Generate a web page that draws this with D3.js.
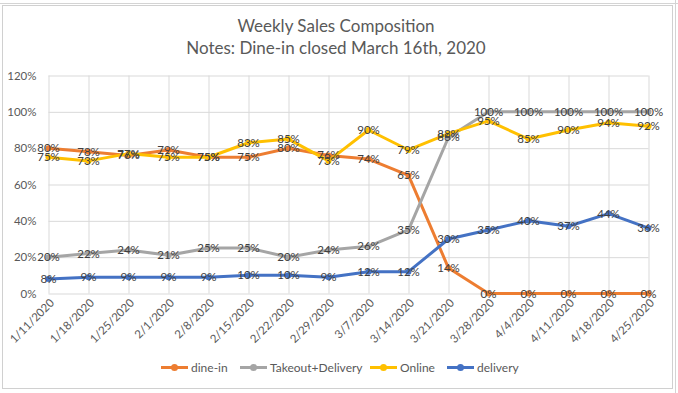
<!DOCTYPE html>
<html><head><meta charset="utf-8">
<script src="https://cdn.jsdelivr.net/npm/d3@7"></script>
<style>body{margin:0;background:#fff}svg{display:block}text{font-family:Lato,"Open Sans",sans-serif}</style>
</head><body><svg id="c" width="678" height="393"></svg>
<script>
const dates = ["1/11/2020","1/18/2020","1/25/2020","2/1/2020","2/8/2020","2/15/2020","2/22/2020","2/29/2020","3/7/2020","3/14/2020","3/21/2020","3/28/2020","4/4/2020","4/11/2020","4/18/2020","4/25/2020"];
const dineIn = [80,78,76,79,75,75,80,76,74,65,14,0,0,0,0,0];
const takeoutDelivery = [20,22,24,21,25,25,20,24,26,35,86,100,100,100,100,100];
const online = [75,73,77,75,75,83,85,73,90,79,88,95,85,90,94,92];
const delivery = [8,9,9,9,9,10,10,9,12,12,30,35,40,37,44,36];
const yTicks = [0,20,40,60,80,100,120];
const seriesNames = ["dine-in","Takeout+Delivery","Online","delivery"];
const seriesColors = ["#ED7D31","#A5A5A5","#FFC000","#4472C4"];
const seriesValues = [dineIn, takeoutDelivery, online, delivery];

const svg = d3.select("#c");
// spreadsheet background lines
svg.append("line").attr("x1",0).attr("x2",678).attr("y1",3.5).attr("y2",3.5).attr("stroke","#d4d4d4");
svg.append("line").attr("x1",675.5).attr("x2",675.5).attr("y1",0).attr("y2",393).attr("stroke","#d4d4d4");
// chart border
svg.append("rect").attr("x",2.5).attr("y",5.5).attr("width",670).attr("height",383)
  .attr("fill","#fff").attr("stroke","#d0d0d0");

const x = d3.scalePoint().domain(dates).range([48.5, 648.5]);
const y = d3.scaleLinear().domain([0,120]).range([293.5, 75.5]);

// title
const title = svg.append("text").attr("text-anchor","middle").attr("fill","#595959").style("font-size","17px");
title.append("tspan").attr("x",336).attr("y",32).text("Weekly Sales Composition");
title.append("tspan").attr("x",336).attr("y",54).text("Notes: Dine-in closed March 16th, 2020");

// gridlines
const gy = svg.append("g").attr("transform","translate(48.5,0)")
  .call(d3.axisLeft(y).tickValues(yTicks).tickSize(-600).tickFormat(d=>d+"%"));
gy.select(".domain").remove();
gy.selectAll(".tick line").attr("stroke","#d9d9d9");
gy.selectAll(".tick text").attr("x",-12).attr("fill","#595959").style("font-size","11.5px").style("font-family","Lato");

const gx = svg.append("g").attr("transform","translate(0,293.5)")
  .call(d3.axisBottom(x).tickSize(-218).tickSizeOuter(0));
gx.select(".domain").remove();
gx.selectAll(".tick line").attr("stroke","#d9d9d9");
gx.selectAll(".tick text").attr("fill","#595959").style("font-size","11.5px")
  .attr("text-anchor","end").attr("y",0).attr("dy",0)
  .attr("transform","translate(6,10) rotate(-45)");

// lines
const line = d3.line().x((d,i)=>x(dates[i])).y(d=>y(d));
seriesValues.forEach((vals,k)=>{
  svg.append("path").datum(vals).attr("d",line).attr("fill","none")
    .attr("stroke",seriesColors[k]).attr("stroke-width",3).attr("stroke-linejoin","round").attr("stroke-linecap","round");
  svg.append("g").selectAll("circle").data(vals).join("circle")
    .attr("cx",(d,i)=>x(dates[i])).attr("cy",d=>y(d)).attr("r",3).attr("fill",seriesColors[k]);
});
// labels
seriesValues.forEach((vals,k)=>{
  svg.append("g").selectAll("text").data(vals).join("text")
    .attr("x",(d,i)=>x(dates[i])).attr("y",d=>y(d)).attr("dy","0.35em")
    .attr("text-anchor","middle").attr("fill","#404040").style("font-size","11.5px")
    .text(d=>d+"%");
});

// legend
const lg = svg.append("g");
const legX = [161, 240, 370, 447];
seriesNames.forEach((n,k)=>{
  const g = lg.append("g").attr("transform",`translate(${legX[k]},367.5)`);
  g.append("line").attr("x1",0).attr("x2",27).attr("stroke",seriesColors[k]).attr("stroke-width",3);
  g.append("circle").attr("cx",13.5).attr("r",3.5).attr("fill",seriesColors[k]);
  g.append("text").attr("x",30).attr("dy","0.35em").attr("fill","#595959").style("font-size","12px").text(n);
});
</script></body></html>
